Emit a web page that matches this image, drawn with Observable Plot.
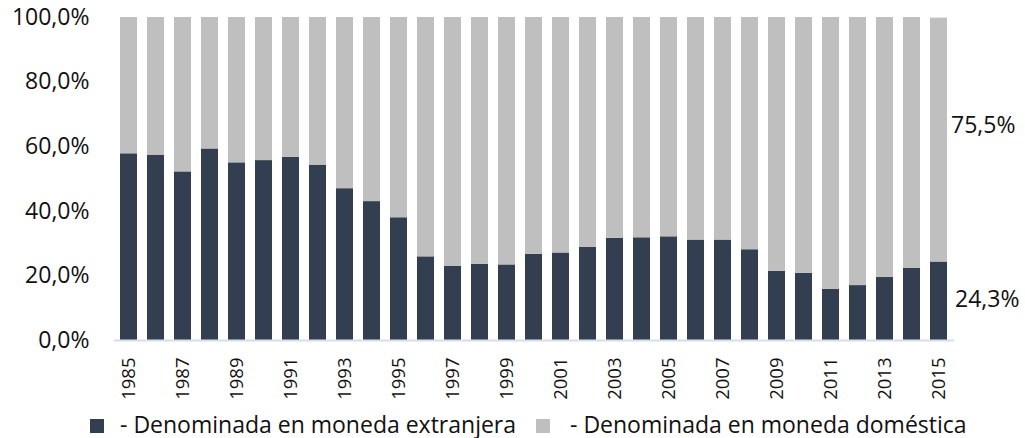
<!DOCTYPE html>
<html><head><meta charset="utf-8">
<script src="https://cdn.jsdelivr.net/npm/d3@7"></script>
<script src="https://cdn.jsdelivr.net/npm/@observablehq/plot@0.6"></script>
<style>
body{margin:0;background:#fff;font-family:"Open Sans",sans-serif;}
#wrap{position:relative;width:1025px;height:438px;}
#legend{position:absolute;left:0;top:408px;width:1025px;height:30px;font-size:23px;color:#111;}
.sw{position:absolute;top:11px;width:14px;height:14px;}
.lt{position:absolute;top:1px;white-space:nowrap;line-height:30px;}
</style></head><body>
<div id="wrap"><div id="chart"></div><div id="legend"></div></div>
<script>
const years = [1985,1986,1987,1988,1989,1990,1991,1992,1993,1994,1995,1996,1997,1998,1999,2000,2001,2002,2003,2004,2005,2006,2007,2008,2009,2010,2011,2012,2013,2014,2015];
const foreign = [57.8,57.4,52.2,59.3,55.0,55.7,56.7,54.3,47.0,43.0,38.0,25.9,23.0,23.6,23.4,26.7,27.1,28.8,31.6,31.8,32.1,31.1,31.1,28.1,21.4,20.8,15.8,17.0,19.5,22.3,24.3];
const domestic = [42.2,42.6,47.8,40.7,45.0,44.3,43.3,45.7,53.0,57.0,62.0,74.1,77.0,76.4,76.6,73.3,72.9,71.2,68.4,68.2,67.9,68.9,68.9,71.9,78.6,79.2,84.2,83.0,80.5,77.7,75.5];
const tickYears = [1985,1987,1989,1991,1993,1995,1997,1999,2001,2003,2005,2007,2009,2011,2013,2015];
const yTicks = [0,20,40,60,80,100];
const seriesNames = ["- Denominada en moneda extranjera","- Denominada en moneda doméstica"];
const seriesColors = ["#333f50","#bfbfbf"];
const endLabels = ["24,3%","75,5%"];

const rows = [];
years.forEach((y,i)=>{
  rows.push({year:y, series:seriesNames[0], value:foreign[i]});
  rows.push({year:y, series:seriesNames[1], value:domestic[i]});
});
const last = years.length-1;
const lastYear = years[last];
const fmt = d => d.toFixed(1).replace(".",",")+"%";

const chart = Plot.plot({
  width:1025, height:408,
  marginLeft:114, marginRight:71, marginTop:17, marginBottom:68,
  style:{fontFamily:"Open Sans, sans-serif", fontSize:"23px", color:"#111", background:"#fff"},
  x:{type:"band", domain:years, paddingInner:0.37, paddingOuter:0.185, label:null},
  y:{domain:[0,100], label:null},
  color:{domain:seriesNames, range:seriesColors},
  marks:[
    Plot.barY(rows, {x:"year", y:"value", fill:"series", order:seriesNames}),
    Plot.ruleY([0], {stroke:"#d5deea", strokeWidth:2}),
    Plot.axisY({ticks:yTicks, tickFormat:fmt, tickSize:0, tickPadding:25, fontSize:23}),
    Plot.axisX({ticks:tickYears, tickFormat:d=>String(d), tickRotate:-90, tickSize:0, tickPadding:17, fontSize:18.5}),
    Plot.text([{year:lastYear, v:foreign[last]/2, t:endLabels[0]}], {x:"year", y:"v", text:"t", textAnchor:"start", dx:16, dy:-2, fontSize:23, fill:"#111"}),
    Plot.text([{year:lastYear, v:foreign[last]+domestic[last]/2, t:endLabels[1]}], {x:"year", y:"v", text:"t", textAnchor:"start", dx:12, dy:-14, fontSize:23, fill:"#111"})
  ]
});
document.getElementById("chart").appendChild(chart);

const legend = document.getElementById("legend");
const pos = [[90,120],[536,570]];
seriesNames.forEach((n,i)=>{
  const s=document.createElement("div"); s.className="sw"; s.style.left=pos[i][0]+"px"; s.style.background=seriesColors[i]; legend.appendChild(s);
  const t=document.createElement("div"); t.className="lt"; t.style.left=pos[i][1]+"px"; t.textContent=n; legend.appendChild(t);
});
</script>
</body></html>
